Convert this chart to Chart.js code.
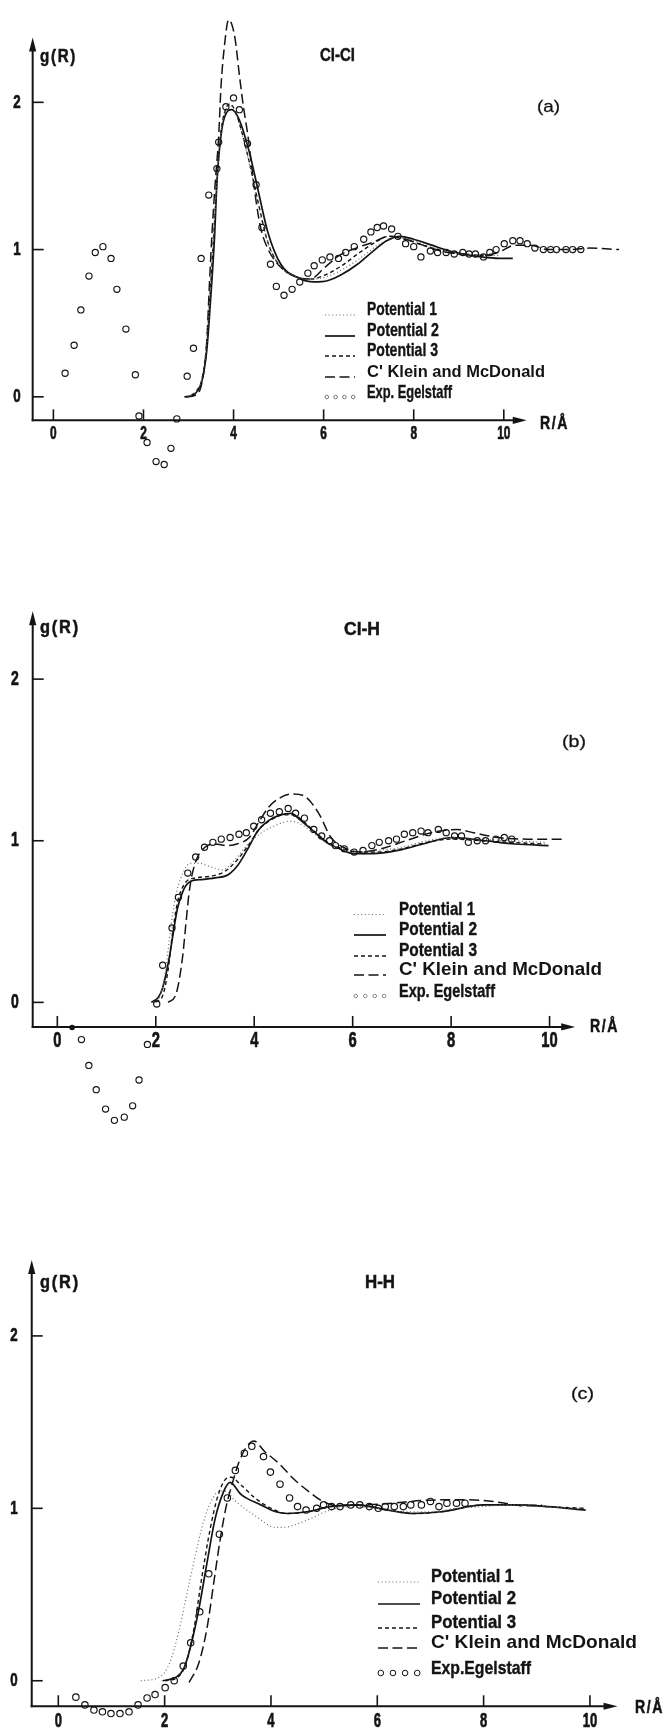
<!DOCTYPE html>
<html><head><meta charset="utf-8">
<script src="https://cdn.jsdelivr.net/npm/chart.js@4.4.0/dist/chart.umd.min.js"></script>
<style>
html,body{margin:0;padding:0;background:#fff;}
body{width:664px;height:1736px;position:relative;overflow:hidden;}
canvas{position:absolute;left:0;}
</style></head><body>
<canvas id="ca" width="664" height="560" style="top:0px"></canvas>
<canvas id="cb" width="664" height="590" style="top:560px"></canvas>
<canvas id="cc" width="664" height="586" style="top:1150px"></canvas>
<script>
// ---------------- DATA (R in Å, g(R)) ----------------
const TICKS_X = [0, 2, 4, 6, 8, 10];
const TICKS_Y = [0, 1, 2];
const X_TICK_LABELS = ['0', '2', '4', '6', '8', '10'];
const Y_TICK_LABELS = ['0', '1', '2'];
const LEGEND_AB = ['Potential 1', 'Potential 2', 'Potential 3', "C' Klein and McDonald", 'Exp. Egelstaff'];
const LEGEND_C = ['Potential 1', 'Potential 2', 'Potential 3', "C' Klein and McDonald", 'Exp.Egelstaff'];
const TITLES = ['Cl-Cl', 'Cl-H', 'H-H'];
const PANEL_TAGS = ['(a)', '(b)', '(c)'];
const Y_TITLE = 'g(R)';
const X_TITLE = 'R/Å';

// Panel (a) Cl-Cl
const clclExp = [[0.26,0.16],[0.46,0.35],[0.61,0.59],[0.79,0.82],[0.93,0.98],[1.10,1.02],[1.28,0.94],[1.41,0.73],[1.61,0.46],[1.82,0.15],[1.90,-0.13],[2.08,-0.31],[2.28,-0.44],[2.46,-0.46],[2.61,-0.35],[2.74,-0.15],[2.97,0.14],[3.11,0.33],[3.28,0.94],[3.45,1.37],[3.63,1.55],[3.67,1.73],[3.83,1.97],[4.00,2.03],[4.13,1.95],[4.31,1.72],[4.50,1.44],[4.63,1.15],[4.82,0.90],[4.95,0.75],[5.12,0.69],[5.30,0.73],[5.47,0.78],[5.65,0.84],[5.79,0.89],[5.97,0.93],[6.14,0.95],[6.33,0.94],[6.49,0.98],[6.68,1.02],[6.89,1.07],[7.05,1.12],[7.19,1.15],[7.33,1.16],[7.51,1.14],[7.65,1.09],[7.82,1.04],[8.00,1.02],[8.16,0.95],[8.37,0.99],[8.53,0.98],[8.72,0.98],[8.90,0.97],[9.09,0.98],[9.23,0.97],[9.37,0.97],[9.55,0.95],[9.69,0.98],[9.83,1.00],[10.01,1.04],[10.20,1.06],[10.36,1.06],[10.52,1.04],[10.69,1.01],[10.88,1.00],[11.04,1.00],[11.17,1.00],[11.38,1.00],[11.53,1.00],[11.71,1.00]];
const clclPot1 = [[2.90,0],[3.05,0.01],[3.20,0.05],[3.30,0.13],[3.40,0.36],[3.50,0.82],[3.58,1.22],[3.66,1.58],[3.74,1.83],[3.84,1.96],[3.93,1.98],[4.05,1.92],[4.20,1.77],[4.36,1.57],[4.54,1.32],[4.75,1.06],[5.00,0.90],[5.35,0.82],[5.75,0.80],[6.10,0.82],[6.45,0.87],[6.85,0.95],[7.20,1.03],[7.55,1.08],[7.90,1.07],[8.30,1.03],[8.70,0.99],[9.10,0.97],[9.50,0.96],[9.90,0.96]];
const clclPot2 = [[2.93,0],[3.10,0.01],[3.20,0.04],[3.30,0.11],[3.40,0.30],[3.45,0.48],[3.53,0.84],[3.58,1.10],[3.63,1.45],[3.70,1.72],[3.80,1.90],[3.96,1.95],[4.10,1.90],[4.20,1.82],[4.36,1.65],[4.54,1.41],[4.76,1.12],[5.05,0.90],[5.42,0.81],[5.79,0.78],[6.10,0.79],[6.40,0.83],[6.75,0.90],[7.10,0.99],[7.40,1.06],[7.70,1.09],[8.00,1.07],[8.40,1.03],[8.80,0.99],[9.10,0.97],[9.50,0.95],[9.90,0.94],[10.20,0.94]];
const clclPot3 = [[2.91,0],[3.05,0.01],[3.20,0.05],[3.30,0.12],[3.40,0.34],[3.50,0.80],[3.58,1.20],[3.65,1.55],[3.72,1.80],[3.82,1.95],[3.92,1.99],[4.05,1.93],[4.20,1.78],[4.36,1.58],[4.54,1.33],[4.75,1.06],[5.00,0.90],[5.35,0.82],[5.72,0.80],[6.05,0.83],[6.40,0.89],[6.80,0.98],[7.15,1.05],[7.45,1.09],[7.80,1.07],[8.20,1.03],[8.60,0.99],[9.00,0.97],[9.40,0.96],[9.75,0.96]];
const clclKlein = [[2.95,0],[3.15,0.01],[3.30,0.10],[3.40,0.35],[3.47,0.80],[3.52,1.10],[3.59,1.44],[3.67,1.77],[3.72,2.10],[3.80,2.39],[3.89,2.56],[4.03,2.44],[4.12,2.21],[4.21,1.99],[4.32,1.77],[4.41,1.55],[4.50,1.33],[4.60,1.15],[4.77,1.00],[5.05,0.88],[5.42,0.81],[5.70,0.80],[6.03,0.88],[6.35,0.96],[6.72,1.01],[7.10,1.05],[7.46,1.09],[7.83,1.07],[8.20,1.03],[8.76,0.98],[9.13,0.97],[9.50,0.96],[9.87,0.98],[10.25,1.03],[10.60,1.03],[10.98,1.00],[11.45,1.00],[11.90,1.01],[12.56,1.00]];

// Panel (b) Cl-H
const clhExp = [[0.49,-0.23],[0.64,-0.39],[0.79,-0.54],[0.98,-0.66],[1.16,-0.73],[1.36,-0.71],[1.53,-0.64],[1.66,-0.48],[1.83,-0.26],[2.02,-0.01],[2.14,0.23],[2.33,0.46],[2.46,0.65],[2.65,0.80],[2.81,0.90],[2.99,0.96],[3.16,0.99],[3.33,1.01],[3.51,1.02],[3.69,1.04],[3.84,1.05],[3.99,1.09],[4.15,1.13],[4.33,1.17],[4.51,1.18],[4.69,1.20],[4.84,1.17],[5.02,1.14],[5.21,1.07],[5.37,1.03],[5.53,1.00],[5.65,0.97],[5.83,0.95],[6.03,0.93],[6.21,0.94],[6.39,0.97],[6.54,0.99],[6.73,1.00],[6.89,1.01],[7.05,1.04],[7.22,1.05],[7.39,1.06],[7.53,1.05],[7.74,1.07],[7.90,1.05],[8.07,1.03],[8.21,1.03],[8.35,0.99],[8.53,1.00],[8.70,1.00],[8.91,1.01],[9.08,1.02],[9.23,1.01]];
const clhDot = [[0.30,-0.155]];
const clhPot1 = [[1.95,0],[2.10,0.05],[2.20,0.20],[2.30,0.45],[2.40,0.65],[2.55,0.80],[2.70,0.86],[2.90,0.86],[3.10,0.84],[3.35,0.82],[3.60,0.88],[3.85,0.97],[4.10,1.04],[4.40,1.09],[4.70,1.12],[4.90,1.11],[5.15,1.06],[5.45,0.99],[5.80,0.95],[6.10,0.93],[6.50,0.94],[7.00,0.96],[7.50,1.00],[8.00,1.02],[8.60,1.01],[9.20,1.00],[9.90,0.99]];
const clhPot2 = [[1.91,0],[2.05,0.03],[2.14,0.09],[2.27,0.27],[2.34,0.40],[2.44,0.58],[2.57,0.70],[2.71,0.75],[2.94,0.76],[3.21,0.77],[3.47,0.79],[3.67,0.85],[3.87,0.95],[4.07,1.06],[4.27,1.12],[4.53,1.16],[4.75,1.17],[4.93,1.13],[5.20,1.06],[5.47,0.99],[5.73,0.95],[6.03,0.92],[6.41,0.92],[6.92,0.94],[7.43,0.98],[8.02,1.02],[8.70,1.00],[9.30,0.98],[9.98,0.97]];
const clhPot3 = [[2.00,0],[2.15,0.05],[2.25,0.20],[2.35,0.45],[2.45,0.63],[2.60,0.74],[2.80,0.77],[3.10,0.78],[3.40,0.81],[3.65,0.88],[3.90,0.98],[4.10,1.07],[4.35,1.13],[4.60,1.16],[4.80,1.16],[5.00,1.12],[5.25,1.05],[5.50,0.99],[5.80,0.95],[6.10,0.93],[6.50,0.93],[7.00,0.95],[7.50,0.99],[8.00,1.01],[8.60,1.00],[9.20,0.99],[9.90,0.98]];
const clhKlein = [[2.25,0],[2.41,0.05],[2.54,0.27],[2.61,0.48],[2.67,0.66],[2.73,0.78],[2.85,0.90],[3.00,0.96],[3.20,0.98],[3.45,0.97],[3.65,0.98],[3.90,1.02],[4.10,1.12],[4.30,1.21],[4.55,1.27],[4.80,1.29],[5.05,1.27],[5.31,1.17],[5.56,1.02],[5.81,0.96],[6.15,0.93],[6.57,0.95],[7.08,1.00],[7.60,1.05],[8.11,1.07],[8.45,1.05],[8.95,1.02],[9.55,1.01],[10.27,1.01]];

// Panel (c) H-H
const hhExp = [[0.33,-0.095],[0.50,-0.14],[0.67,-0.17],[0.83,-0.18],[0.99,-0.19],[1.16,-0.19],[1.33,-0.18],[1.50,-0.14],[1.67,-0.10],[1.82,-0.08],[2.01,-0.04],[2.18,0.00],[2.35,0.085],[2.49,0.22],[2.66,0.40],[2.83,0.62],[3.03,0.85],[3.18,1.06],[3.33,1.22],[3.50,1.32],[3.64,1.36],[3.86,1.30],[3.99,1.21],[4.17,1.14],[4.35,1.06],[4.50,1.01],[4.66,0.99],[4.86,1.00],[4.99,1.02],[5.14,1.01],[5.30,1.01],[5.50,1.02],[5.67,1.02],[5.85,1.01],[6.02,1.00],[6.15,1.01],[6.32,1.01],[6.49,1.01],[6.63,1.02],[6.83,1.02],[7.00,1.04],[7.16,1.01],[7.31,1.03],[7.49,1.03],[7.65,1.03]];
const hhPot1 = [[1.55,0],[1.90,0.02],[2.09,0.10],[2.27,0.29],[2.43,0.52],[2.58,0.73],[2.73,0.92],[2.89,1.05],[3.04,1.10],[3.15,1.10],[3.32,1.045],[3.69,0.96],[4.09,0.89],[4.25,0.89],[4.50,0.91],[4.74,0.94],[5.11,0.99],[5.50,1.01],[6.00,1.00],[6.50,0.98],[7.00,0.98],[7.50,1.00],[8.00,1.01],[8.50,1.02],[9.00,1.01],[9.90,1.00]];
const hhPot2 = [[1.96,0],[2.21,0.02],[2.36,0.07],[2.49,0.20],[2.64,0.41],[2.80,0.69],[2.95,0.94],[3.10,1.09],[3.23,1.15],[3.44,1.08],[3.81,1.02],[4.09,0.98],[4.31,0.97],[4.68,0.98],[5.11,1.01],[5.60,1.02],[6.20,0.99],[6.67,0.97],[7.20,0.98],[8.00,1.02],[8.60,1.02],[9.20,1.01],[9.92,0.99]];
const hhPot3 = [[2.00,0],[2.25,0.02],[2.40,0.10],[2.55,0.30],[2.70,0.60],[2.85,0.87],[3.00,1.07],[3.15,1.17],[3.25,1.18],[3.42,1.14],[3.70,1.06],[4.00,1.00],[4.30,0.97],[4.70,0.98],[5.10,1.01],[5.60,1.02],[6.20,0.99],[6.70,0.97],[7.20,0.98],[8.00,1.02],[8.60,1.02],[9.20,1.01],[9.90,1.00]];
const hhKlein = [[2.46,-0.01],[2.64,0.10],[2.80,0.31],[2.92,0.56],[3.04,0.81],[3.15,1.00],[3.26,1.13],[3.40,1.27],[3.55,1.36],[3.68,1.39],[3.88,1.33],[4.15,1.26],[4.43,1.17],[4.70,1.10],[4.95,1.045],[5.26,1.015],[5.80,1.02],[6.30,1.03],[6.83,1.045],[7.50,1.05],[8.00,1.045],[8.40,1.03],[8.70,1.015],[9.10,1.02]];

// ---------------- STYLE / LAYOUT ----------------
const INK = '#141414';
const STY = {
  pot1: {borderColor:'#6a6a6a', borderWidth:1.2, borderDash:[1,2.6]},
  pot2: {borderColor:INK, borderWidth:1.7, borderDash:[]},
  pot3: {borderColor:INK, borderWidth:1.4, borderDash:[4,3]},
  klein:{borderColor:INK, borderWidth:1.5, borderDash:[10,4.5]}
};
const FAM = '"Liberation Sans", Arial, sans-serif';

function xy(arr){ return arr.map(p => ({x:p[0], y:p[1]})); }
function lineDS(label, arr, st){
  return Object.assign({label, data:xy(arr), showLine:true, pointRadius:0, fill:false,
    cubicInterpolationMode:'monotone', clip:false, order:2}, st);
}
function expDS(label, arr, r){
  return {label, data:xy(arr), showLine:false, pointRadius:r, pointStyle:'circle',
    pointBorderColor:INK, pointBorderWidth:1.15, pointBackgroundColor:'rgba(255,255,255,0)',
    borderColor:INK, clip:false, order:0};
}
// text drawn squeezed horizontally: either a fixed x-scale (sx) or fitted to a width (w)
function txt(ctx, s, x, y, font, o){
  ctx.save(); ctx.font = font; ctx.textBaseline = 'middle'; ctx.fillStyle = INK; ctx.strokeStyle = INK;
  ctx.letterSpacing = (o.ls || 0) + 'px';
  let sx = o.sx || 1;
  if (o.w) sx = o.w / ctx.measureText(s).width;
  ctx.translate(x, y); ctx.scale(sx, 1); ctx.textAlign = o.align || 'left';
  ctx.fillText(s, 0, 0);
  if (o.heavy) { ctx.lineWidth = o.heavy; ctx.strokeText(s, 0, 0); }
  ctx.restore();
}

function decoPlugin(d){
  return {
    id: 'deco',
    beforeDatasetsDraw(chart){
      const ctx = chart.ctx, xs = chart.scales.x, ys = chart.scales.y;
      const ax = xs.getPixelForValue(d.axisR), ay = ys.getPixelForValue(d.axisG);
      const top = ys.getPixelForValue(d.arrowG), right = xs.getPixelForValue(d.arrowR);
      ctx.save();
      ctx.strokeStyle = INK; ctx.fillStyle = INK; ctx.lineWidth = 2;
      ctx.beginPath(); ctx.moveTo(ax, ay + 1); ctx.lineTo(ax, top + 8); ctx.stroke();
      ctx.beginPath(); ctx.moveTo(ax - 1, ay); ctx.lineTo(right - 8, ay); ctx.stroke();
      ctx.beginPath(); ctx.moveTo(ax, top); ctx.lineTo(ax - 3.6, top + 14); ctx.lineTo(ax + 3.6, top + 14); ctx.closePath(); ctx.fill();
      ctx.beginPath(); ctx.moveTo(right, ay); ctx.lineTo(right - 14, ay - 3.6); ctx.lineTo(right - 14, ay + 3.6); ctx.closePath(); ctx.fill();
      ctx.lineWidth = 1.6;
      TICKS_X.forEach((v, i) => {
        const px = xs.getPixelForValue(v);
        ctx.beginPath(); ctx.moveTo(px, ay); ctx.lineTo(px, ay - 11); ctx.stroke();
        txt(ctx, X_TICK_LABELS[i], px, ay + d.xLabOff, 'bold ' + d.xLabSize + 'px ' + FAM, {sx:d.xLabSx, align:'center', heavy:0.7});
      });
      TICKS_Y.forEach((v, i) => {
        const py = ys.getPixelForValue(v);
        ctx.beginPath(); ctx.moveTo(ax, py); ctx.lineTo(ax + 11, py); ctx.stroke();
        txt(ctx, Y_TICK_LABELS[i], d.yLabX, py, 'bold ' + d.yLabSize + 'px ' + FAM, {sx:0.7, align:'center', heavy:0.7});
      });
      ctx.restore();
    },
    afterDatasetsDraw(chart){
      const ctx = chart.ctx;
      const F18 = 'bold 18px ' + FAM;
      txt(ctx, Y_TITLE, d.g[0], d.g[1], F18, {w:d.g[2], ls:2, heavy:0.5});
      txt(ctx, X_TITLE, d.r[0], d.r[1], F18, {w:d.r[2], ls:2, heavy:0.5});
      txt(ctx, d.title, d.t[0], d.t[1], F18, {w:d.t[2], heavy:0.5});
      txt(ctx, d.tag, d.p[0], d.p[1], '17px ' + FAM, {w:d.p[2], heavy:0.3});
      // legend
      const keys = ['pot1', 'pot2', 'pot3', 'klein'];
      d.legend.forEach((lab, i) => {
        const y = d.legY[i];
        if (i < 4) {
          const st = STY[keys[i]];
          ctx.save(); ctx.strokeStyle = st.borderColor; ctx.lineWidth = st.borderWidth;
          ctx.setLineDash(st.borderDash);
          ctx.beginPath(); ctx.moveTo(d.legX0, y + 5); ctx.lineTo(d.legX1, y + 5); ctx.stroke();
          ctx.restore();
        } else {
          ctx.save(); ctx.strokeStyle = d.legExpColor; ctx.lineWidth = 1;
          const n = 4, step = (d.legX1 - d.legX0 - 2 * d.legExpR) / (n - 1);
          for (let k = 0; k < n; k++) {
            ctx.beginPath(); ctx.arc(d.legX0 + d.legExpR + k * step, y + 4, d.legExpR, 0, Math.PI * 2); ctx.stroke();
          }
          ctx.restore();
        }
        if (i === 3) txt(ctx, lab, d.legTX, y, 'bold ' + d.kleinSize + 'px ' + FAM, {w:d.legW[i]});
        else txt(ctx, lab, d.legTX, y, 'bold 19px ' + FAM, {w:d.legW[i], heavy:0.4});
      });
    }
  };
}

function makeChart(id, g, datasets, d){
  const xmin = -g.x0 / g.sx, xmax = (664 - g.x0) / g.sx;
  const ymax = g.y0 / g.sy, ymin = (g.y0 - g.h) / g.sy;
  return new Chart(document.getElementById(id), {
    type: 'line',
    data: {datasets},
    options: {
      responsive: false, animation: false, devicePixelRatio: 1, events: [],
      layout: {padding: 0},
      plugins: {legend: {display: false}, tooltip: {enabled: false}, title: {display: false}},
      scales: {
        x: {type: 'linear', min: xmin, max: xmax, display: false},
        y: {type: 'linear', min: ymin, max: ymax, display: false}
      }
    },
    plugins: [decoPlugin(d)]
  });
}

function panelSets(p1, p2, p3, kl, ex, r, labels){
  return [
    expDS(labels[4], ex, r),
    lineDS(labels[0], p1, STY.pot1),
    lineDS(labels[1], p2, STY.pot2),
    lineDS(labels[2], p3, STY.pot3),
    lineDS(labels[3], kl, STY.klein)
  ];
}

// Panel (a)
makeChart('ca', {h:560, x0:49, sx:45.75, y0:399, sy:150},
  panelSets(clclPot1, clclPot2, clclPot3, clclKlein, clclExp, 3.1, LEGEND_AB),
  {axisR:-0.46, axisG:-0.16, arrowG:2.44, arrowR:10.51,
   xLabOff:14, xLabSize:18, xLabSx:0.66, yLabX:17, yLabSize:19,
   g:[40,57,37], r:[540,424,29], title:TITLES[0], t:[320,56,35], tag:PANEL_TAGS[0], p:[537,107,23],
   legend:LEGEND_AB, legX0:325, legX1:355, legTX:367, legY:[310,331,351,372,393], legW:[70,72,71,178,85],
   kleinSize:16.5, legExpR:1.8, legExpColor:'#777'});

// Panel (b)
const setsB = panelSets(clhPot1, clhPot2, clhPot3, clhKlein, clhExp, 3.1, LEGEND_AB);
setsB.push({label:'Exp. Egelstaff', data:xy(clhDot), showLine:false, pointRadius:2.8, pointBorderWidth:0,
  pointBackgroundColor:INK, clip:false, order:0});
makeChart('cb', {h:590, x0:53, sx:50, y0:445, sy:164.5}, setsB,
  {axisR:-0.5, axisG:-0.152, arrowG:2.42, arrowR:10.52,
   xLabOff:14, xLabSize:22, xLabSx:0.67, yLabX:15, yLabSize:20,
   g:[40,68,40], r:[590,467,29], title:TITLES[1], t:[344,70,36], tag:PANEL_TAGS[1], p:[562,182,24],
   legend:LEGEND_AB, legX0:354, legX1:386, legTX:399, legY:[349.5,370,391,410,432], legW:[76,78,78,203,96],
   kleinSize:18.5, legExpR:1.8, legExpColor:'#888'});

// Panel (c)
makeChart('cc', {h:586, x0:54, sx:54, y0:535, sy:175.5},
  panelSets(hhPot1, hhPot2, hhPot3, hhKlein, hhExp, 3.2, LEGEND_C),
  {axisR:-0.5, axisG:-0.148, arrowG:2.44, arrowR:10.52,
   xLabOff:15, xLabSize:21, xLabSx:0.62, yLabX:14, yLabSize:19,
   g:[40,133,40], r:[635,558,29], title:TITLES[2], t:[365,133,30], tag:PANEL_TAGS[2], p:[571,244,23],
   legend:LEGEND_C, legX0:378, legX1:420, legTX:431, legY:[427,449,473,493,519], legW:[83,85,85,206,100],
   kleinSize:19, legExpR:2.8, legExpColor:INK});
</script>
</body></html>
